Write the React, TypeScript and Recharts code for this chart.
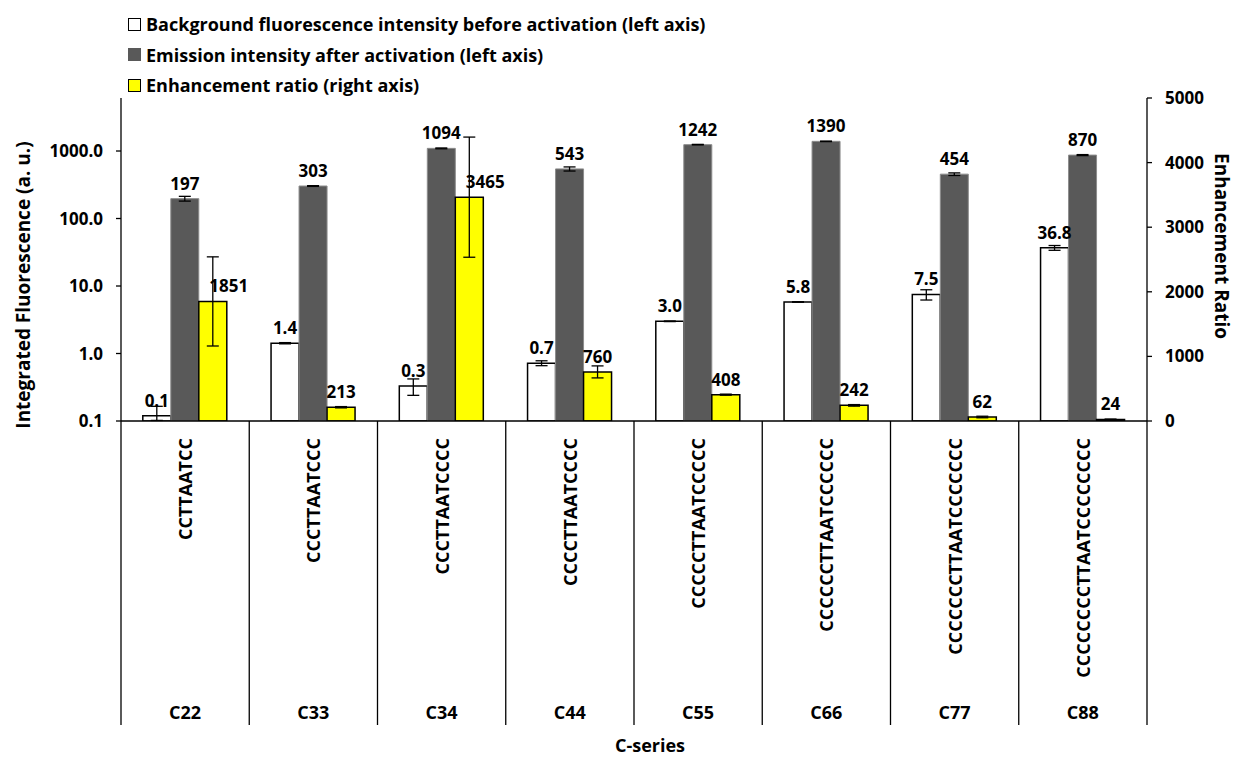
import React from 'react';
import { ComposedChart, Bar, XAxis, YAxis, ErrorBar, LabelList, Legend, Label } from 'recharts';

const categories = ['C22', 'C33', 'C34', 'C44', 'C55', 'C66', 'C77', 'C88'];
const sequences = [
  'CCTTAATCC',
  'CCCTTAATCCC',
  'CCCTTAATCCCC',
  'CCCCTTAATCCCC',
  'CCCCCTTAATCCCCC',
  'CCCCCCTTAATCCCCCC',
  'CCCCCCCTTAATCCCCCCC',
  'CCCCCCCCTTAATCCCCCCCC',
];
const background = [0.12, 1.42, 0.33, 0.72, 3.0, 5.8, 7.5, 36.8];
const backgroundErrLow = [0.018, 0.03, 0.09, 0.06, 0.03, 0.05, 1.3, 3];
const backgroundErrHigh = [0.045, 0.03, 0.09, 0.06, 0.03, 0.05, 1.3, 3];
const emission = [197, 303, 1094, 543, 1242, 1390, 454, 870];
const emissionErr = [16, 4, 15, 38, 12, 12, 20, 15];
const ratio = [1851, 213, 3465, 760, 408, 242, 62, 24];
const ratioErr = [690, 10, 930, 93, 8, 12, 12, 6];
const leftTicks = [0.1, 1, 10, 100, 1000];
const rightTicks = [0, 1000, 2000, 3000, 4000, 5000];

const seriesNames = [
  'Background fluorescence intensity before activation (left axis)',
  'Emission intensity after activation (left axis)',
  'Enhancement ratio (right axis)',
];

const data = categories.map((c, i) => ({
  category: c,
  sequence: sequences[i],
  background: background[i],
  backgroundErr: [backgroundErrLow[i], backgroundErrHigh[i]],
  emission: emission[i],
  emissionErr: emissionErr[i],
  ratio: ratio[i],
  ratioErr: ratioErr[i],
}));

const FONT = '"Open Sans", "Noto Sans", sans-serif';
const DARK = '#595959';
const YELLOW = '#ffff00';

const CategoryTick = (props: any) => {
  const { x, y, payload, index, visibleTicksCount } = props;
  const half = payload && payload.offset ? payload.offset : 64;
  const seq = sequences[index];
  const isLast = index === (visibleTicksCount ?? categories.length) - 1;
  return (
    <g>
      <line x1={x - half} x2={x - half} y1={y} y2={y + 304} stroke="#000" strokeWidth={1.3} />
      {isLast && (
        <line x1={x + half} x2={x + half} y1={y} y2={y + 304} stroke="#000" strokeWidth={1.3} />
      )}
      <text
        x={x}
        y={y + 17}
        transform={`rotate(-90, ${x}, ${y + 17})`}
        textAnchor="end"
        dominantBaseline="central"
        fontFamily={FONT}
        fontWeight={700}
        fontSize={18}
        fill="#000"
      >
        {seq}
      </text>
      <text
        x={x}
        y={y + 298}
        textAnchor="middle"
        fontFamily={FONT}
        fontWeight={700}
        fontSize={18}
        fill="#000"
      >
        {payload.value}
      </text>
    </g>
  );
};

const RatioLabel = (props: any) => {
  const { x, y, width, value, index } = props;
  const shift = ratioErr[index] > 300 ? 16 : 0;
  return (
    <text
      x={x + width / 2 + shift}
      y={y - 9}
      textAnchor="middle"
      fontFamily={FONT}
      fontWeight={700}
      fontSize={17}
      fill="#000"
    >
      {Math.round(value)}
    </text>
  );
};

const LegendContent = () => {
  const swatches = [
    { fill: '#ffffff', border: '1.5px solid #000' },
    { fill: DARK, border: `1.5px solid ${DARK}` },
    { fill: YELLOW, border: '1.5px solid #000' },
  ];
  return (
    <div style={{ fontFamily: FONT, fontWeight: 700, fontSize: 18, color: '#000', whiteSpace: 'nowrap' }}>
      {seriesNames.map((n, i) => (
        <div key={n} style={{ display: 'flex', alignItems: 'center', height: 30.5 }}>
          <span
            style={{
              display: 'inline-block',
              width: 11,
              height: 11,
              background: swatches[i].fill,
              border: swatches[i].border,
              marginRight: 5,
            }}
          />
          <span>{n}</span>
        </div>
      ))}
    </div>
  );
};

const tickStyle = { fontFamily: FONT, fontWeight: 700, fontSize: 17, fill: '#000' };

export default function App() {
  return (
    <div style={{ position: 'absolute', left: 0, top: 0, width: 1236, height: 761, background: '#fff' }}>
      <ComposedChart
        width={1236}
        height={761}
        data={data}
        margin={{ top: 98, right: 0, bottom: 0, left: 0 }}
        barCategoryGap="17%"
        barGap={0}
      >
        <XAxis
          dataKey="category"
          height={340}
          tickLine={false}
          tickSize={0}
          tickMargin={0}
          axisLine={{ stroke: '#000', strokeWidth: 1.3 }}
          tick={<CategoryTick />}
          interval={0}
        >
          <Label
            content={(p: any) => {
              const vb = p.viewBox;
              return (
                <text
                  x={vb.x + vb.width / 2 + 16}
                  y={752}
                  textAnchor="middle"
                  fontFamily={FONT}
                  fontWeight={700}
                  fontSize={18}
                  fill="#000"
                >
                  C-series
                </text>
              );
            }}
          />
        </XAxis>
        <YAxis
          yAxisId="left"
          type="number"
          scale="log"
          domain={[0.1, 6100]}
          allowDataOverflow
          ticks={leftTicks}
          width={121}
          tickSize={5}
          tickMargin={13}
          tick={tickStyle}
          tickFormatter={(v: number) => v.toFixed(1)}
          axisLine={{ stroke: '#000', strokeWidth: 1.3 }}
          tickLine={{ stroke: '#000', strokeWidth: 1.3 }}
        >
          <Label
            content={(p: any) => {
              const vb = p.viewBox;
              const cx = vb.x + 23;
              const cy = 285;
              return (
                <text
                  x={cx}
                  y={cy}
                  transform={`rotate(-90, ${cx}, ${cy})`}
                  textAnchor="middle"
                  dominantBaseline="central"
                  fontFamily={FONT}
                  fontWeight={700}
                  fontSize={19}
                  fill="#000"
                >
                  Integrated Fluorescence (a. u.)
                </text>
              );
            }}
          />
        </YAxis>
        <YAxis
          yAxisId="right"
          orientation="right"
          type="number"
          domain={[0, 5000]}
          allowDataOverflow
          ticks={rightTicks}
          width={89}
          tickSize={5}
          tickMargin={13}
          tick={tickStyle}
          axisLine={{ stroke: '#000', strokeWidth: 1.3 }}
          tickLine={{ stroke: '#000', strokeWidth: 1.3 }}
        >
          <Label
            content={(p: any) => {
              const vb = p.viewBox;
              const cx = vb.x + 75;
              const cy = 246;
              return (
                <text
                  x={cx}
                  y={cy}
                  transform={`rotate(90, ${cx}, ${cy})`}
                  textAnchor="middle"
                  dominantBaseline="central"
                  fontFamily={FONT}
                  fontWeight={700}
                  fontSize={19}
                  fill="#000"
                >
                  Enhancement Ratio
                </text>
              );
            }}
          />
        </YAxis>
        <Legend
          layout="vertical"
          align="center"
          verticalAlign="middle"
          content={<LegendContent />}
          wrapperStyle={{ position: 'absolute', top: 9, left: 128, width: 'auto', height: 'auto' }}
        />
        <Bar
          yAxisId="left"
          dataKey="background"
          name={seriesNames[0]}
          fill="#ffffff"
          stroke="#000"
          strokeWidth={1.5}
          isAnimationActive={false}
        >
          <ErrorBar dataKey="backgroundErr" width={6} stroke="#000" strokeWidth={1.3} direction="y" />
          <LabelList
            dataKey="background"
            position="top"
            offset={9}
            formatter={(v: any) => Number(v).toFixed(1)}
            style={tickStyle}
          />
        </Bar>
        <Bar
          yAxisId="left"
          dataKey="emission"
          name={seriesNames[1]}
          fill={DARK}
          stroke="#8c8c8c"
          strokeWidth={1}
          isAnimationActive={false}
        >
          <ErrorBar dataKey="emissionErr" width={6} stroke="#000" strokeWidth={1.3} direction="y" />
          <LabelList
            dataKey="emission"
            position="top"
            offset={9}
            formatter={(v: any) => String(Math.round(Number(v)))}
            style={tickStyle}
          />
        </Bar>
        <Bar
          yAxisId="right"
          dataKey="ratio"
          name={seriesNames[2]}
          fill={YELLOW}
          stroke="#000"
          strokeWidth={1.5}
          isAnimationActive={false}
        >
          <ErrorBar dataKey="ratioErr" width={6} stroke="#000" strokeWidth={1.3} direction="y" />
          <LabelList dataKey="ratio" content={<RatioLabel />} />
        </Bar>
      </ComposedChart>
    </div>
  );
}
